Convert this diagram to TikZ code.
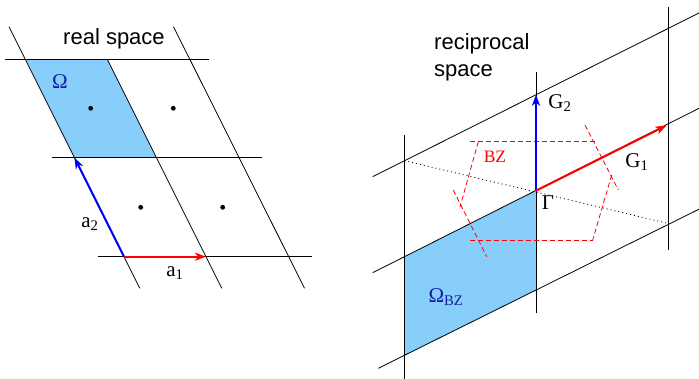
\documentclass[tikz,border=0pt]{standalone}
\usepackage{fontspec}
\setmainfont{Liberation Serif}
\setsansfont{Liberation Sans}
\usetikzlibrary{arrows.meta}
\definecolor{cellblue}{RGB}{135,206,250}
\definecolor{omegablue}{RGB}{20,30,165}
\definecolor{vecred}{RGB}{255,0,0}
\definecolor{vecblue}{RGB}{0,0,255}
\begin{document}
\begin{tikzpicture}[x=1pt,y=-1pt,
  latline/.style={draw=black,line width=0.8pt},
  vecarrow/.style={line width=2pt,-{Stealth[length=11pt,width=8pt,inset=3pt]}},
  bzline/.style={draw=vecred,line width=0.8pt,dash pattern=on 5pt off 3pt},
  lbl/.style={font=\fontsize{21}{24}\selectfont,inner sep=0pt},
  ttl/.style={font=\sffamily\fontsize{22}{27}\selectfont,inner sep=0pt,align=left},
  dotpt/.style={circle,fill=black,inner sep=0pt,minimum size=4.8pt}]
\useasboundingbox (0,0) rectangle (699,379);

% ---------------- real space ----------------
\coordinate (A1) at (26,59.3);
\coordinate (A2) at (107.3,59.3);
\coordinate (A3) at (156.5,157.7);
\coordinate (A4) at (74.5,157.7);
\coordinate (O)  at (124,256.7);
\coordinate (P1) at (206,256.7);

\fill[cellblue] (A1) -- (A2) -- (A3) -- (A4) -- cycle;

\coordinate (h1a) at (5,59.3);   \coordinate (h1b) at (209,59.3);
\coordinate (h2a) at (52,157.7); \coordinate (h2b) at (262,157.7);
\coordinate (h3a) at (98,256.7); \coordinate (h3b) at (312,256.7);
\draw[latline] (h1a) -- (h1b);
\draw[latline] (h2a) -- (h2b);
\draw[latline] (h3a) -- (h3b);

\coordinate (s1a) at (9,26.7);    \coordinate (s1b) at (139.8,288.3);
\coordinate (s2a) at (107.3,59.3);\coordinate (s2b) at (221.8,288.3);
\coordinate (s3a) at (173.5,26.7);\coordinate (s3b) at (304.5,288.3);
\draw[latline] (s1a) -- (s1b);
\draw[latline] (s2a) -- (s2b);
\draw[latline] (s3a) -- (s3b);

\node[dotpt] (d1) at (90.7,108.3) {};
\node[dotpt] (d2) at (173.3,108.3) {};
\node[dotpt] (d3) at (140.7,207.3) {};
\node[dotpt] (d4) at (222.7,207.3) {};

\draw[vecarrow,vecred] (O) -- (P1);
\draw[vecarrow,vecblue] (O) -- (A4);

\node[ttl] (rs) at (114,39) {real space};
\node[lbl,text=omegablue] (om) at (60,82) {Ω};
\node[lbl] (a2) at (90,224) {a\textsubscript{2}};
\node[lbl] (a1) at (175,273) {a\textsubscript{1}};

% ---------------- reciprocal space ----------------
\coordinate (G)  at (536,190.7);
\coordinate (LM) at (404.3,256.7);
\coordinate (LT) at (404.3,160.7);
\coordinate (MB) at (536,290);
\coordinate (LB) at (404.3,355.5);
\coordinate (MT) at (536,94.7);
\coordinate (RM) at (666.5,125.5);
\coordinate (RB) at (668.3,223.5);

\fill[cellblue] (LM) -- (G) -- (MB) -- (LB) -- cycle;

\coordinate (v1a) at (404.3,135);  \coordinate (v1b) at (404.3,379);
\coordinate (v2a) at (536,71.7);   \coordinate (v2b) at (536,313.3);
\coordinate (v3a) at (668.3,6.7);  \coordinate (v3b) at (668.3,250);
\draw[latline] (v1a) -- (v1b);
\draw[latline] (v2a) -- (v2b);
\draw[latline] (v3a) -- (v3b);

\coordinate (t1a) at (372.7,176.7); \coordinate (t1b) at (699,13);
\coordinate (t2a) at (372.7,272.7); \coordinate (t2b) at (699,108.3);
\coordinate (t3a) at (378.3,368.3); \coordinate (t3b) at (699,209.2);
\draw[latline] (t1a) -- (t1b);
\draw[latline] (t2a) -- (t2b);
\draw[latline] (t3a) -- (t3b);

\draw[black,line width=0.8pt,dash pattern=on 1pt off 3pt] (LT) -- (RB);

% Brillouin zone
\coordinate (bz1a) at (470,141.7);   \coordinate (bz1b) at (597,141.7);
\coordinate (bz2a) at (470,240);     \coordinate (bz2b) at (593,240);
\coordinate (bz3a) at (585,125);     \coordinate (bz3b) at (618.3,190);
\coordinate (bz4a) at (611.7,175);   \coordinate (bz4b) at (592.7,240);
\coordinate (bz5a) at (478.3,141.7); \coordinate (bz5b) at (460,207);
\coordinate (bz6a) at (453.3,190);   \coordinate (bz6b) at (486.7,256.7);
\draw[bzline] (bz1a) -- (bz1b);
\draw[bzline] (bz2a) -- (bz2b);
\draw[bzline] (bz3a) -- (bz3b);
\draw[bzline] (bz4a) -- (bz4b);
\draw[bzline] (bz5a) -- (bz5b);
\draw[bzline] (bz6a) -- (bz6b);

\draw[vecarrow,vecblue] (G) -- (MT);
\draw[vecarrow,vecred] (G) -- (RM);

\node[ttl,anchor=north west] (rc) at (434,33) {reciprocal\\space};
\node[lbl,font=\fontsize{17.5}{20}\selectfont,text=vecred] (bz) at (495,157) {BZ};
\node[lbl] (g2) at (560,103) {G\textsubscript{2}};
\node[lbl] (g1) at (637,162) {G\textsubscript{1}};
\node[lbl] (gam) at (548,202.5) {Γ};
\node[lbl,text=omegablue] (obz) at (446,297) {Ω\textsubscript{BZ}};
\end{tikzpicture}
\end{document}
